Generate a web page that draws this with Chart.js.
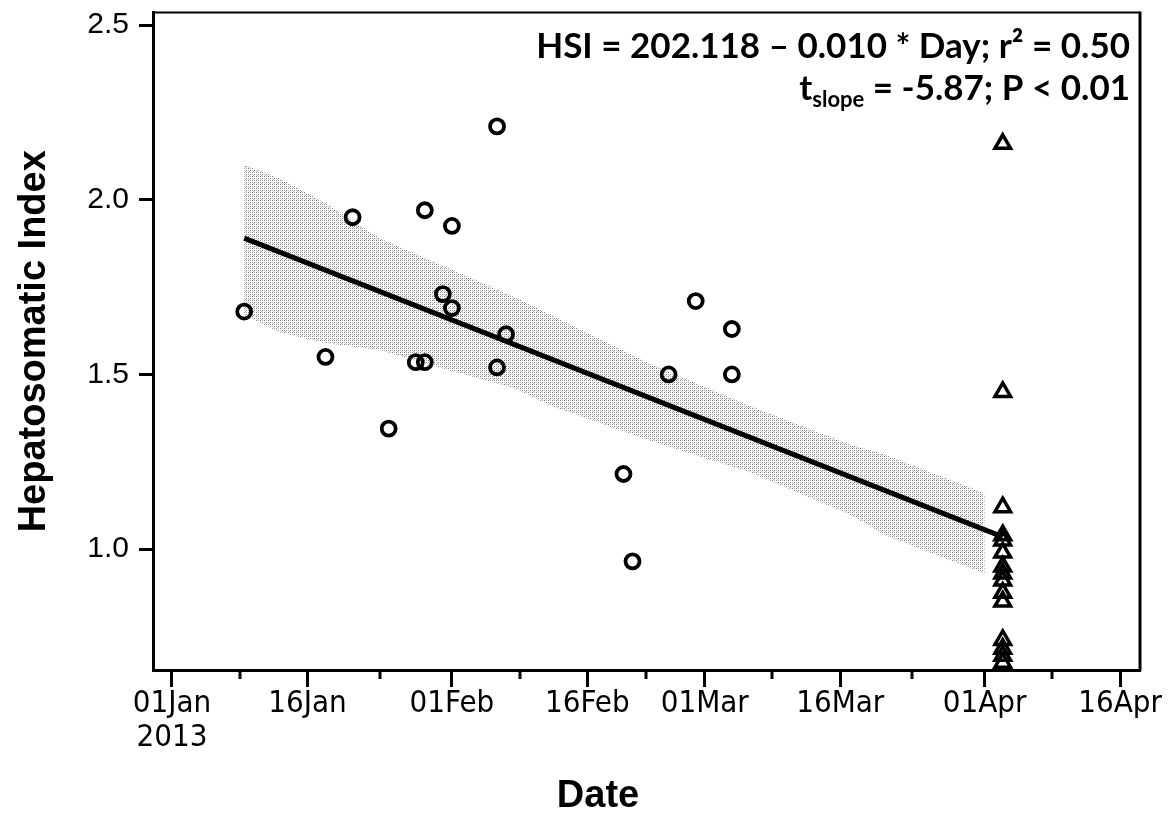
<!DOCTYPE html>
<html lang="en">
<head>
<meta charset="UTF-8">
<title>Hepatosomatic Index by date</title>
<script src="https://cdn.jsdelivr.net/npm/chart.js@4.4.1/dist/chart.umd.min.js"></script>
<style>
  body { margin: 0; background: #fff; }
</style>
</head>
<body>
<canvas id="hsiChart" width="1172" height="821"></canvas>
<script>
// fish sampled Jan-Mar (circles)
const circleDates = ['2013-01-09', '2013-01-18', '2013-01-21', '2013-01-25', '2013-01-29', '2013-02-01',
  '2013-01-31', '2013-02-01', '2013-01-28', '2013-01-29', '2013-02-06', '2013-02-07', '2013-02-06',
  '2013-02-20', '2013-02-21', '2013-02-25', '2013-02-28', '2013-03-04', '2013-03-04'];
const circleHSI = [1.68, 1.55, 1.95, 1.345, 1.97, 1.925, 1.73, 1.69, 1.535, 1.535, 2.21, 1.615, 1.52,
  1.215, 0.965, 1.50, 1.71, 1.63, 1.50];

// fish sampled early April (triangles)
const aprilDates = ['2013-04-03', '2013-04-03', '2013-04-03', '2013-04-03', '2013-04-03', '2013-04-03',
  '2013-04-03', '2013-04-03', '2013-04-03', '2013-04-03', '2013-04-03', '2013-04-03', '2013-04-03',
  '2013-04-03', '2013-04-03'];
const aprilHSI = [2.16, 1.45, 1.12, 1.04, 1.025, 0.99, 0.95, 0.93, 0.91, 0.875, 0.85, 0.74, 0.715, 0.695, 0.675];

// regression line and its confidence band
const fitDates = ['2013-01-09', '2013-04-03'];
const fitHSI = [1.89, 1.035];
const bandDates = ['2013-01-09', '2013-01-13', '2013-01-18', '2013-01-24', '2013-02-01', '2013-02-08',
  '2013-02-12', '2013-02-23', '2013-03-06', '2013-03-17', '2013-03-21', '2013-04-01'];
const bandUpper = [2.10, 2.06, 1.99, 1.89, 1.80, 1.72, 1.67, 1.53, 1.41, 1.30, 1.27, 1.16];
const bandLower = [1.67, 1.62, 1.59, 1.57, 1.51, 1.46, 1.41, 1.31, 1.22, 1.10, 1.04, 0.93];

// axes
const xTickDates = ['2013-01-01', '2013-01-16', '2013-02-01', '2013-02-16', '2013-03-01', '2013-03-16',
  '2013-04-01', '2013-04-16'];
const xTickLabels = [['01Jan', '2013'], '16Jan', '01Feb', '16Feb', '01Mar', '16Mar', '01Apr', '16Apr'];
const xMinorDays = [7.5, 23, 38.5, 52.5, 66.5, 82, 97.5];
const yTicks = [1.0, 1.5, 2.0, 2.5];

function dayOf(s) {
  const [y, m, d] = s.split('-').map(Number);
  return (Date.UTC(y, m - 1, d) - Date.UTC(2013, 0, 1)) / 86400000;
}
function pts(dates, vals) {
  return dates.map((d, i) => ({ x: dayOf(d), y: vals[i] }));
}

function stipple() {
  const c = document.createElement('canvas');
  c.width = 4; c.height = 4;
  const g = c.getContext('2d');
  g.fillStyle = '#7a7a7a';
  g.fillRect(0, 0, 1, 1); g.fillRect(2, 2, 1, 1);
  g.fillStyle = '#b5b5b5';
  g.fillRect(2, 0, 1, 1); g.fillRect(0, 2, 1, 1); g.fillRect(1, 3, 1, 1);
  return g.createPattern(c, 'repeat');
}

const tickDays = xTickDates.map(dayOf);

// frame, minor ticks and the text in the plot
const extras = {
  id: 'extras',
  afterDraw(chart) {
    const { ctx, chartArea: a } = chart;
    const xs = chart.scales.x;
    ctx.save();
    ctx.strokeStyle = '#000';
    ctx.lineWidth = 2;
    ctx.beginPath();
    ctx.moveTo(a.left, a.top); ctx.lineTo(a.right, a.top);
    ctx.stroke();
    ctx.lineWidth = 3;
    ctx.beginPath();
    ctx.moveTo(a.right, a.top - 1); ctx.lineTo(a.right, a.bottom + 1);
    ctx.stroke();
    xMinorDays.forEach(v => {
      const px = Math.round(xs.getPixelForValue(v));
      ctx.beginPath();
      ctx.moveTo(px, a.bottom); ctx.lineTo(px, a.bottom + 9);
      ctx.stroke();
    });

    ctx.fillStyle = '#000';
    ctx.textAlign = 'right';
    ctx.textBaseline = 'alphabetic';
    const big = 'bold 35px Lato, "Open Sans", sans-serif';
    const small = 'bold 22px Lato, "Open Sans", sans-serif';
    const xr = a.right - 10;
    ctx.font = big;
    ctx.fillText('HSI = 202.118 \u2013 0.010 * Day; r\u00b2 = 0.50', xr, 58);
    const rest = ' = -5.87; P < 0.01';
    ctx.fillText(rest, xr, 100);
    let x = xr - ctx.measureText(rest).width;
    ctx.font = small;
    ctx.fillText('slope', x, 107);
    x -= ctx.measureText('slope').width;
    ctx.font = big;
    ctx.fillText('t', x, 100);

    ctx.textAlign = 'center';
    ctx.textBaseline = 'middle';
    ctx.font = 'bold 38px "Liberation Sans", Arial, sans-serif';
    ctx.fillText('Date', 598, 797);
    ctx.restore();
  }
};

new Chart('hsiChart', {
  type: 'scatter',
  data: {
    datasets: [
      {
        label: 'Jan-Mar',
        data: pts(circleDates, circleHSI),
        pointStyle: 'circle',
        pointRadius: 7,
        borderWidth: 3.8,
        borderColor: '#000',
        backgroundColor: 'rgba(0,0,0,0)',
        order: 0
      },
      {
        label: 'April',
        data: pts(aprilDates, aprilHSI),
        pointStyle: 'triangle',
        pointRadius: 9,
        borderWidth: 3.5,
        borderColor: '#000',
        backgroundColor: 'rgba(0,0,0,0)',
        order: 0
      },
      {
        label: 'fit',
        data: pts(fitDates, fitHSI),
        showLine: true,
        borderColor: '#000',
        borderWidth: 5,
        pointRadius: 0,
        order: 1
      },
      {
        label: 'upper',
        data: pts(bandDates, bandUpper),
        showLine: true,
        borderWidth: 0,
        borderColor: 'rgba(0,0,0,0)',
        pointRadius: 0,
        fill: '+1',
        backgroundColor: stipple(),
        order: 2
      },
      {
        label: 'lower',
        data: pts(bandDates, bandLower),
        showLine: true,
        borderWidth: 0,
        borderColor: 'rgba(0,0,0,0)',
        pointRadius: 0,
        order: 3
      }
    ]
  },
  options: {
    responsive: false,
    animation: false,
    devicePixelRatio: 1,
    layout: { padding: { top: 10, right: 32, left: 0, bottom: 0 } },
    plugins: {
      legend: { display: false },
      tooltip: { enabled: false }
    },
    scales: {
      x: {
        type: 'linear',
        min: -2.1,
        max: 107.2,
        afterFit: s => { s.height = 151; s.paddingLeft = 0; s.paddingRight = 0; },
        afterBuildTicks: s => { s.ticks = tickDays.map(v => ({ value: v })); },
        ticks: {
          autoSkip: false,
          maxRotation: 0,
          padding: 0,
          color: '#000',
          font: { family: '"Liberation Sans Narrow", "DejaVu Sans Condensed", Arial, sans-serif', size: 31, lineHeight: 1.1 },
          callback: (v, i) => xTickLabels[i]
        },
        grid: { drawOnChartArea: false, tickLength: 17, tickWidth: 3, tickColor: '#000' },
        border: { display: true, width: 3, color: '#000' }
      },
      y: {
        min: 0.654,
        max: 2.536,
        afterFit: s => { s.width = 153; s.paddingTop = 0; s.paddingBottom = 0; },
        afterBuildTicks: s => { s.ticks = yTicks.map(v => ({ value: v })); },
        ticks: {
          padding: 10,
          color: '#000',
          font: { family: '"Liberation Sans", Arial, sans-serif', size: 30 },
          callback: v => Number(v).toFixed(1)
        },
        grid: { drawOnChartArea: false, tickLength: 14, tickWidth: 3, tickColor: '#000' },
        border: { display: true, width: 3, color: '#000' },
        title: {
          display: true,
          text: 'Hepatosomatic Index',
          color: '#000',
          font: { family: '"Liberation Sans", Arial, sans-serif', size: 38, weight: 'bold' },
          padding: { top: 12, bottom: 0 }
        }
      }
    }
  },
  plugins: [extras]
});
</script>
</body>
</html>
